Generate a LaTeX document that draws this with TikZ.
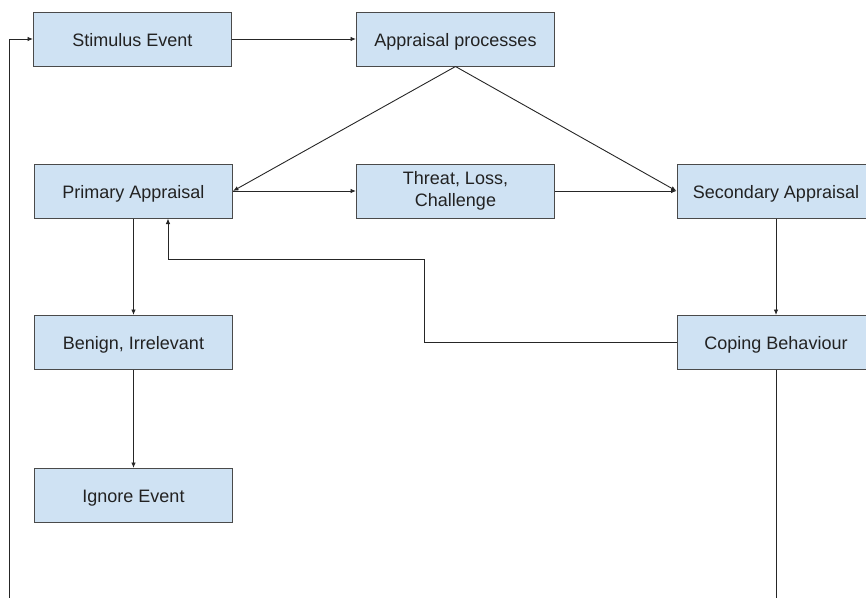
\documentclass[tikz,border=0pt]{standalone}
\usepackage{fontspec}
\setmainfont{Liberation Sans}
\usetikzlibrary{arrows.meta,calc}
\definecolor{boxfill}{HTML}{CFE2F3}
\definecolor{boxline}{HTML}{4A4A4A}
\definecolor{txt}{HTML}{222222}
\tikzset{
  box/.style={draw=boxline, line width=1pt, fill=boxfill, rectangle,
    minimum width=198pt, minimum height=54pt, inner sep=0pt,
    align=center, text=txt, font=\fontsize{18}{21.5}\selectfont},
  oneline/.style={text height=16pt, text depth=2pt},
  conn/.style={draw=black!85, line width=0.9pt},
  arr/.style={conn, -{Latex[length=5.5pt,width=4.5pt]}}
}
\begin{document}
\begin{tikzpicture}[x=1pt,y=-1pt]
\useasboundingbox (0,0) rectangle (866,597);
\clip (0,0) rectangle (866,597);
\node[box,oneline] (stim) at (132.5,39) {Stimulus Event};
\node[box,oneline] (appr) at (455.5,39) {Appraisal processes};
\node[box,oneline] (prim) at (133.5,191) {Primary Appraisal};
\node[box] (threat) at (455.5,191) {Threat, Loss,\\Challenge};
\node[box,oneline] (sec) at (776,191) {Secondary Appraisal};
\node[box,oneline] (benign) at (133.5,342.5) {Benign, Irrelevant};
\node[box,oneline] (cope) at (776,342.5) {Coping Behaviour};
\node[box,oneline] (ignore) at (133.5,495.5) {Ignore Event};
\coordinate (lb) at (9,600);
\coordinate (rb) at (776,600);
\coordinate (fb1) at (424,259);
\coordinate (fb2) at (168,259);
\draw[arr] (stim) -- (appr);
\draw[arr] (appr.south) -- (prim.east);
\draw[arr] (appr.south) -- (sec.west);
\draw[arr] (prim) -- (threat);
\draw[arr] (threat) -- (sec);
\draw[arr] (prim) -- (benign);
\draw[arr] (benign) -- (ignore);
\draw[arr] (sec) -- (cope);
\draw[arr] (cope.west) -| (fb1) -- (fb2) -- (fb2 |- prim.south);
\draw[arr] (lb) |- (stim.west);
\draw[conn] (cope.south) -- (rb);
\end{tikzpicture}
\end{document}
